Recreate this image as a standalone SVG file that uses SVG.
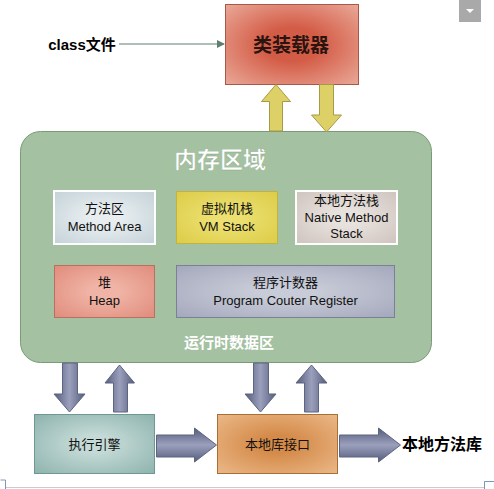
<svg xmlns="http://www.w3.org/2000/svg" width="494" height="489" viewBox="0 0 494 489">
<style>
text{font-family:"Liberation Sans","Noto Sans CJK SC",sans-serif;text-anchor:middle}
.lbl{font-size:13px;fill:#111}
.bold{font-weight:bold}
.white{fill:#fff;font-weight:bold}
.darr{stroke:#5d6580;stroke-width:1}
.yarr{fill:#ddd066;stroke:#a69a48;stroke-width:1}
</style>
<defs>
<radialGradient id="gRed" cx="0.5" cy="0.5" r="0.7"><stop offset="0.3" stop-color="#d35c46"/><stop offset="1" stop-color="#eaa898"/></radialGradient>
<radialGradient id="gTeal" cx="0.5" cy="0.5" r="0.7"><stop offset="0.2" stop-color="#c4dad6"/><stop offset="1" stop-color="#8eb3ae"/></radialGradient>
<radialGradient id="gOrange" cx="0.5" cy="0.5" r="0.7"><stop offset="0.2" stop-color="#d48a48"/><stop offset="1" stop-color="#ebb888"/></radialGradient>
<radialGradient id="gMethod" cx="0.5" cy="0.5" r="0.7"><stop offset="0.2" stop-color="#e8eef0"/><stop offset="1" stop-color="#c4d2d8"/></radialGradient>
<radialGradient id="gVM" cx="0.5" cy="0.5" r="0.7"><stop offset="0.2" stop-color="#ece070"/><stop offset="1" stop-color="#dccc48"/></radialGradient>
<radialGradient id="gNative" cx="0.5" cy="0.5" r="0.7"><stop offset="0.2" stop-color="#e8e2de"/><stop offset="1" stop-color="#cfc4be"/></radialGradient>
<radialGradient id="gHeap" cx="0.5" cy="0.5" r="0.7"><stop offset="0.2" stop-color="#f0b4a6"/><stop offset="1" stop-color="#e08c7c"/></radialGradient>
<radialGradient id="gPC" cx="0.5" cy="0.5" r="0.7"><stop offset="0.2" stop-color="#c8ccd8"/><stop offset="1" stop-color="#a4a8bc"/></radialGradient>
<linearGradient id="gDV" x1="0" y1="0" x2="1" y2="0"><stop offset="0" stop-color="#555c7c"/><stop offset="0.5" stop-color="#9aa0bc"/><stop offset="1" stop-color="#555c7c"/></linearGradient>
<linearGradient id="gDH" x1="0" y1="0" x2="0" y2="1"><stop offset="0" stop-color="#555c7c"/><stop offset="0.5" stop-color="#9aa0bc"/><stop offset="1" stop-color="#555c7c"/></linearGradient>
<marker id="mArr" markerWidth="8" markerHeight="8" refX="7" refY="4" orient="auto" markerUnits="userSpaceOnUse"><path d="M0,0 L8,4 L0,8 Z" fill="#5f7f6f"/></marker>
</defs>
<rect width="494" height="489" fill="#fff"/>
<g id="frame">
<rect x="459" y="0" width="22" height="22" fill="#a9a9a9"/>
<polygon points="466,9 474,9 470,13" fill="#fff"/>
<line x1="6" y1="487.5" x2="484" y2="487.5" stroke="#c8ccd0" stroke-width="1"/>
<path d="M0.5,480 H5.5 V489" fill="none" stroke="#7c98b8" stroke-width="1"/>
<path d="M494,481.5 H484.5 V489" fill="none" stroke="#7c98b8" stroke-width="1"/>
</g>
<g id="class-file"><text x="82" y="50" class="bold" style="font-size:15px">class文件</text></g>
<g id="class-loader">
<rect x="225.5" y="4.5" width="133" height="80" fill="url(#gRed)" stroke="#a85848"/>
<text x="291" y="52" class="bold" style="font-size:19px;fill:#2a1410">类装载器</text>
</g>
<g id="runtime-area">
<rect x="20.5" y="131.5" width="411" height="231" rx="20" fill="#a4c1a1" stroke="#7b9a78"/>
<text x="220" y="168" class="white" style="font-size:23px;stroke:#8aa888;stroke-width:0.4">内存区域</text>
<text x="229" y="348" class="white" style="font-size:15px">运行时数据区</text>
</g>
<g id="method-area">
<rect x="54" y="191" width="101" height="53" fill="url(#gMethod)" stroke="#fff" stroke-width="2"/>
<text x="104.5" y="213" class="lbl">方法区</text>
<text x="104.5" y="231" class="lbl">Method Area</text>
</g>
<g id="vm-stack">
<rect x="176.5" y="191.5" width="101" height="52" fill="url(#gVM)" stroke="#c4b240"/>
<text x="227" y="213" class="lbl">虚拟机栈</text>
<text x="227" y="231" class="lbl">VM Stack</text>
</g>
<g id="native-stack">
<rect x="296" y="191" width="101" height="53" fill="url(#gNative)" stroke="#fff" stroke-width="2"/>
<text x="346.5" y="205" class="lbl">本地方法栈</text>
<text x="346.5" y="222" class="lbl">Native Method</text>
<text x="346.5" y="238" class="lbl">Stack</text>
</g>
<g id="heap">
<rect x="54.5" y="265.5" width="100" height="52" fill="url(#gHeap)" stroke="#b87060"/>
<text x="104.5" y="287" class="lbl">堆</text>
<text x="104.5" y="305" class="lbl">Heap</text>
</g>
<g id="pc-register">
<rect x="176.5" y="265.5" width="218" height="52" fill="url(#gPC)" stroke="#7a8098"/>
<text x="285.5" y="287" class="lbl">程序计数器</text>
<text x="285.5" y="305" class="lbl">Program Couter Register</text>
</g>
<g id="exec-engine">
<rect x="34.5" y="414.5" width="120" height="59" fill="url(#gTeal)" stroke="#6f9894"/>
<text x="94.5" y="449" class="lbl">执行引擎</text>
</g>
<g id="native-interface">
<rect x="217.5" y="414.5" width="120" height="59" fill="url(#gOrange)" stroke="#a86e34"/>
<text x="277.5" y="449" class="lbl">本地库接口</text>
</g>
<g id="native-lib"><text x="442" y="450" class="bold" style="font-size:16px">本地方法库</text></g>
<g id="connectors">
<line x1="119" y1="44" x2="224" y2="44" stroke="#5f7f6f" stroke-width="1" marker-end="url(#mArr)"/>
<polygon class="yarr" points="269.5,131 269.5,101.5 261.5,101.5 276,84.5 290.5,101.5 282.5,101.5 282.5,131"/>
<polygon class="yarr" points="319.5,84.5 333.5,84.5 333.5,115 341.5,115 326.5,132 311.5,115 319.5,115"/>
<polygon class="darr" fill="url(#gDV)" points="62.5,363 77.5,363 77.5,394 85,394 69.5,412 54,394 62.5,394"/>
<polygon class="darr" fill="url(#gDV)" points="113.5,412 113.5,383 105,383 119.5,365 134.5,383 127.5,383 127.5,412"/>
<polygon class="darr" fill="url(#gDV)" points="253.5,363 268.5,363 268.5,394 276,394 260.5,412 245,394 253.5,394"/>
<polygon class="darr" fill="url(#gDV)" points="304.5,412 304.5,383 296,383 311.5,365 327,383 318.5,383 318.5,412"/>
<polygon class="darr" fill="url(#gDH)" points="156.5,435 194.5,435 194.5,428 216.5,445 194.5,462 194.5,457 156.5,457"/>
<polygon class="darr" fill="url(#gDH)" points="339.5,435 378.5,435 378.5,428 400.5,445 378.5,462 378.5,457 339.5,457"/>
</g>
</svg>
